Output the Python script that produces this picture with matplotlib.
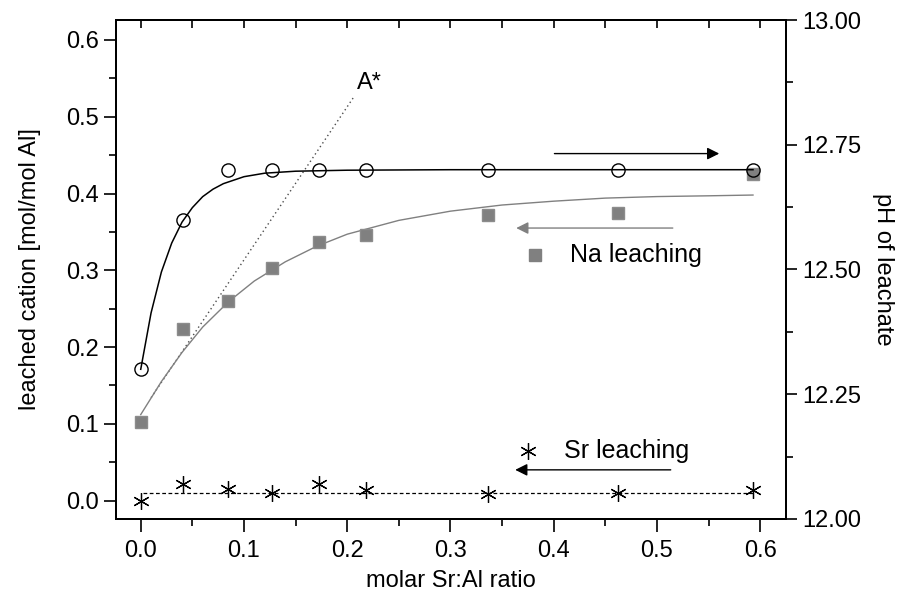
import matplotlib

matplotlib.use("Agg")
import matplotlib.pyplot as plt
from matplotlib.ticker import MultipleLocator, NullFormatter

plt.rcParams["font.family"] = ["Liberation Sans", "DejaVu Sans"]

# measured points
ratio = [0.0, 0.041, 0.085, 0.127, 0.173, 0.218, 0.336, 0.462, 0.593]
ph = [12.30, 12.60, 12.70, 12.70, 12.70, 12.70, 12.70, 12.70, 12.70]
na = [0.102, 0.224, 0.260, 0.303, 0.337, 0.346, 0.372, 0.375, 0.425]
sr = [0.000, 0.022, 0.015, 0.010, 0.022, 0.014, 0.008, 0.010, 0.014]

# fitted curves
ph_fit_x = [0.0, 0.01, 0.02, 0.03, 0.04, 0.05, 0.06, 0.07, 0.08, 0.10, 0.12, 0.15, 0.20, 0.30, 0.593]
ph_fit_y = [12.300, 12.413, 12.495, 12.553, 12.595, 12.624, 12.646, 12.661, 12.672,
            12.686, 12.693, 12.697, 12.699, 12.700, 12.700]
na_fit_x = [0.0, 0.02, 0.04, 0.06, 0.085, 0.11, 0.14, 0.17, 0.20, 0.25, 0.30, 0.35,
            0.40, 0.45, 0.50, 0.55, 0.593]
na_fit_y = [0.112, 0.155, 0.193, 0.226, 0.259, 0.286, 0.311, 0.331, 0.347, 0.365,
            0.377, 0.385, 0.390, 0.394, 0.396, 0.397, 0.398]
sr_mean_x = [0.002, 0.593]
sr_mean_y = [0.010, 0.010]
astar_x = [0.010, 0.206]
astar_y = [0.134, 0.525]

STAR = (6, 2, 0)

fig = plt.figure(figsize=(9.01, 5.94), dpi=100)
ax = fig.add_axes([0.1287, 0.1263, 0.7437, 0.84])
ax2 = ax.twinx()

ax.plot(astar_x, astar_y, color="0.3", lw=1.0, ls=(0, (1, 2.2)))
ax.plot(na_fit_x, na_fit_y, color="0.5", lw=1.0)
ax.plot(ratio, na, ls="none", marker="s", ms=8.5, color="0.5", mec="0.55")
ax.plot(sr_mean_x, sr_mean_y, color="black", lw=0.9, ls=(0, (3, 2)))
ax.plot(ratio, sr, ls="none", marker=STAR, ms=12, color="black", mew=0.9)

ax2.plot(ph_fit_x, ph_fit_y, color="black", lw=1.1)
ax2.plot(ratio, ph, ls="none", marker="o", ms=9.5, mfc="none", mec="black", mew=1.0)

# annotations
ax.text(0.209, 0.544, "A*", fontsize=17, va="center", ha="left")
ax.annotate("", xy=(0.563, 0.452), xytext=(0.398, 0.452),
            arrowprops=dict(arrowstyle="-|>", color="black", lw=1.0, mutation_scale=18))
ax.annotate("", xy=(0.361, 0.355), xytext=(0.518, 0.355),
            arrowprops=dict(arrowstyle="-|>", color="0.5", lw=1.0, mutation_scale=18))
ax.annotate("", xy=(0.360, 0.040), xytext=(0.516, 0.040),
            arrowprops=dict(arrowstyle="-|>", color="black", lw=1.0, mutation_scale=18))
ax.plot([0.382], [0.320], ls="none", marker="s", ms=8.5, color="0.5")
ax.text(0.416, 0.320, "Na leaching", fontsize=18, va="center", ha="left")
ax.plot([0.375], [0.064], ls="none", marker=STAR, ms=12, color="black", mew=0.9)
ax.text(0.410, 0.065, "Sr leaching", fontsize=18, va="center", ha="left")

ax.set_xlim(-0.024, 0.625)
ax.set_ylim(-0.024, 0.626)
ax2.set_ylim(12.0, 13.0)

ax.xaxis.set_major_locator(MultipleLocator(0.1))
ax.xaxis.set_minor_locator(MultipleLocator(0.05))
ax.yaxis.set_major_locator(MultipleLocator(0.1))
ax.yaxis.set_minor_locator(MultipleLocator(0.05))
ax2.yaxis.set_major_locator(MultipleLocator(0.25))
ax2.yaxis.set_minor_locator(MultipleLocator(0.125))
ax.xaxis.set_major_formatter(plt.FuncFormatter(lambda v, p: f"{v:.1f}"))
ax.yaxis.set_major_formatter(plt.FuncFormatter(lambda v, p: f"{v:.1f}"))
ax2.yaxis.set_major_formatter(plt.FuncFormatter(lambda v, p: f"{v:.2f}"))

ax.tick_params(axis="x", which="major", direction="out", length=9, width=1.2, labelsize=17, pad=6)
ax.tick_params(axis="x", which="minor", direction="out", length=5, width=1.2)
ax.tick_params(axis="y", which="major", direction="out", length=9, width=1.2, labelsize=17, right=False)
ax.tick_params(axis="y", which="minor", direction="out", length=5, width=1.2, right=False)
ax2.tick_params(axis="y", which="major", direction="out", length=8, width=1.2, labelsize=17)
ax2.tick_params(axis="y", which="minor", direction="out", length=5, width=1.2)

# inward ticks along the top edge, no labels
top = ax.secondary_xaxis("top")
top.xaxis.set_major_locator(MultipleLocator(0.05))
top.xaxis.set_major_formatter(NullFormatter())
top.tick_params(axis="x", which="major", direction="in", length=6, width=1.2)
top.spines["top"].set_linewidth(1.4)

for side in ["left", "right", "top", "bottom"]:
    ax.spines[side].set_linewidth(1.4)
    ax2.spines[side].set_linewidth(1.4)

ax.set_xlabel("molar Sr:Al ratio", fontsize=17, labelpad=6)
ax.set_ylabel("leached cation [mol/mol Al]", fontsize=17, labelpad=18)
ax2.set_ylabel("pH of leachate", fontsize=17, rotation=270, labelpad=24)

fig.savefig("out.png", dpi=100)
